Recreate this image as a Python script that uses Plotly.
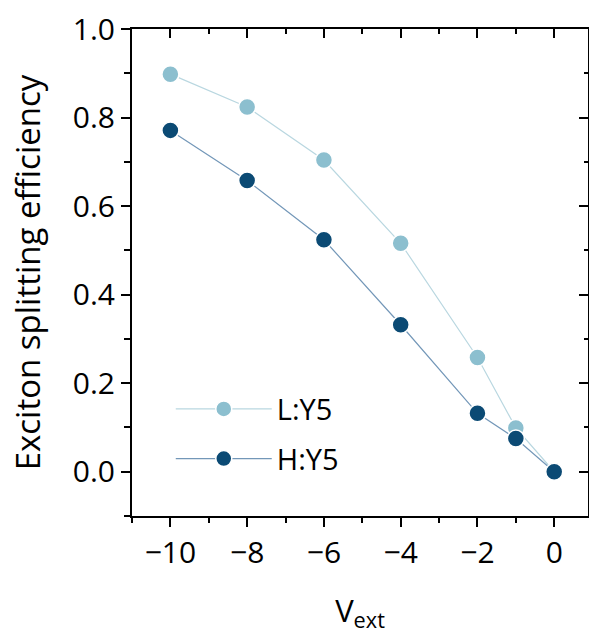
import plotly.graph_objects as go

v_ext = [-10, -8, -6, -4, -2, -1, 0]
eff_L = [0.898, 0.824, 0.704, 0.516, 0.258, 0.099, 0.0]
eff_H = [0.771, 0.658, 0.524, 0.332, 0.132, 0.075, 0.0]
names = ["L:Y5", "H:Y5"]

FONT = "Open Sans"
fig = go.Figure()
fig.add_trace(go.Scatter(
    x=v_ext, y=eff_L, name=names[0], mode="lines+markers", legendgroup="a",
    line=dict(color="#b9d7e0", width=1.2),
    marker=dict(size=17, color="#8cbfcf", line=dict(color="white", width=1.5)),
))
fig.add_trace(go.Scatter(
    x=v_ext, y=eff_H, name=names[1], mode="lines+markers", legendgroup="b",
    line=dict(color="#7397b8", width=1.2),
    marker=dict(size=17, color="#0b4a74", line=dict(color="white", width=1.5)),
))
# invisible trace carrying the top/right mirror axes
fig.add_trace(go.Scatter(x=[v_ext[0]], y=[eff_L[0]], xaxis="x2", yaxis="y2",
                         showlegend=False, mode="markers", marker=dict(opacity=0), hoverinfo="skip"))

XR = [-11, 0.88]
YR = [-0.1, 1.0]
axis_common = dict(showline=True, linecolor="black", linewidth=2, showgrid=False,
                   zeroline=False, tickcolor="black", tickwidth=2)
fig.update_layout(
    width=589, height=637,
    margin=dict(l=132, r=1, t=29, b=121),
    paper_bgcolor="white", plot_bgcolor="white",
    font=dict(family=FONT, size=29, color="black"),
    xaxis=dict(range=XR, dtick=2, tick0=0, ticks="outside", ticklen=9,
               tickfont=dict(size=30),
               minor=dict(dtick=1, tick0=0, ticks="outside", ticklen=5, tickcolor="black", tickwidth=2),
               title=dict(text="V<sub>ext</sub>", standoff=29, font=dict(size=31)),
               **axis_common),
    yaxis=dict(range=YR, dtick=0.2, tick0=0, ticks="outside", ticklen=9, tickformat=".1f",
               tickfont=dict(size=30),
               minor=dict(dtick=0.1, tick0=0, ticks="outside", ticklen=6, tickcolor="black", tickwidth=2),
               title=dict(text="Exciton splitting efficiency", standoff=22, font=dict(size=33)),
               **axis_common),
    xaxis2=dict(range=XR, overlaying="x", side="top", dtick=2, tick0=0, ticks="inside", ticklen=9,
                showticklabels=False,
                minor=dict(dtick=1, tick0=0, ticks="inside", ticklen=5, tickcolor="black", tickwidth=2),
                **axis_common),
    yaxis2=dict(range=YR, overlaying="y", side="right", dtick=0.2, tick0=0, ticks="inside", ticklen=9,
                showticklabels=False,
                minor=dict(dtick=0.1, tick0=0, ticks="inside", ticklen=4, tickcolor="black", tickwidth=2),
                **axis_common),
    legend=dict(x=0.085, y=0.272, xanchor="left", yanchor="top", bgcolor="rgba(0,0,0,0)",
                font=dict(size=29), itemwidth=96, traceorder="grouped", tracegroupgap=9),
    showlegend=True,
)
fig.write_html("out.html")
